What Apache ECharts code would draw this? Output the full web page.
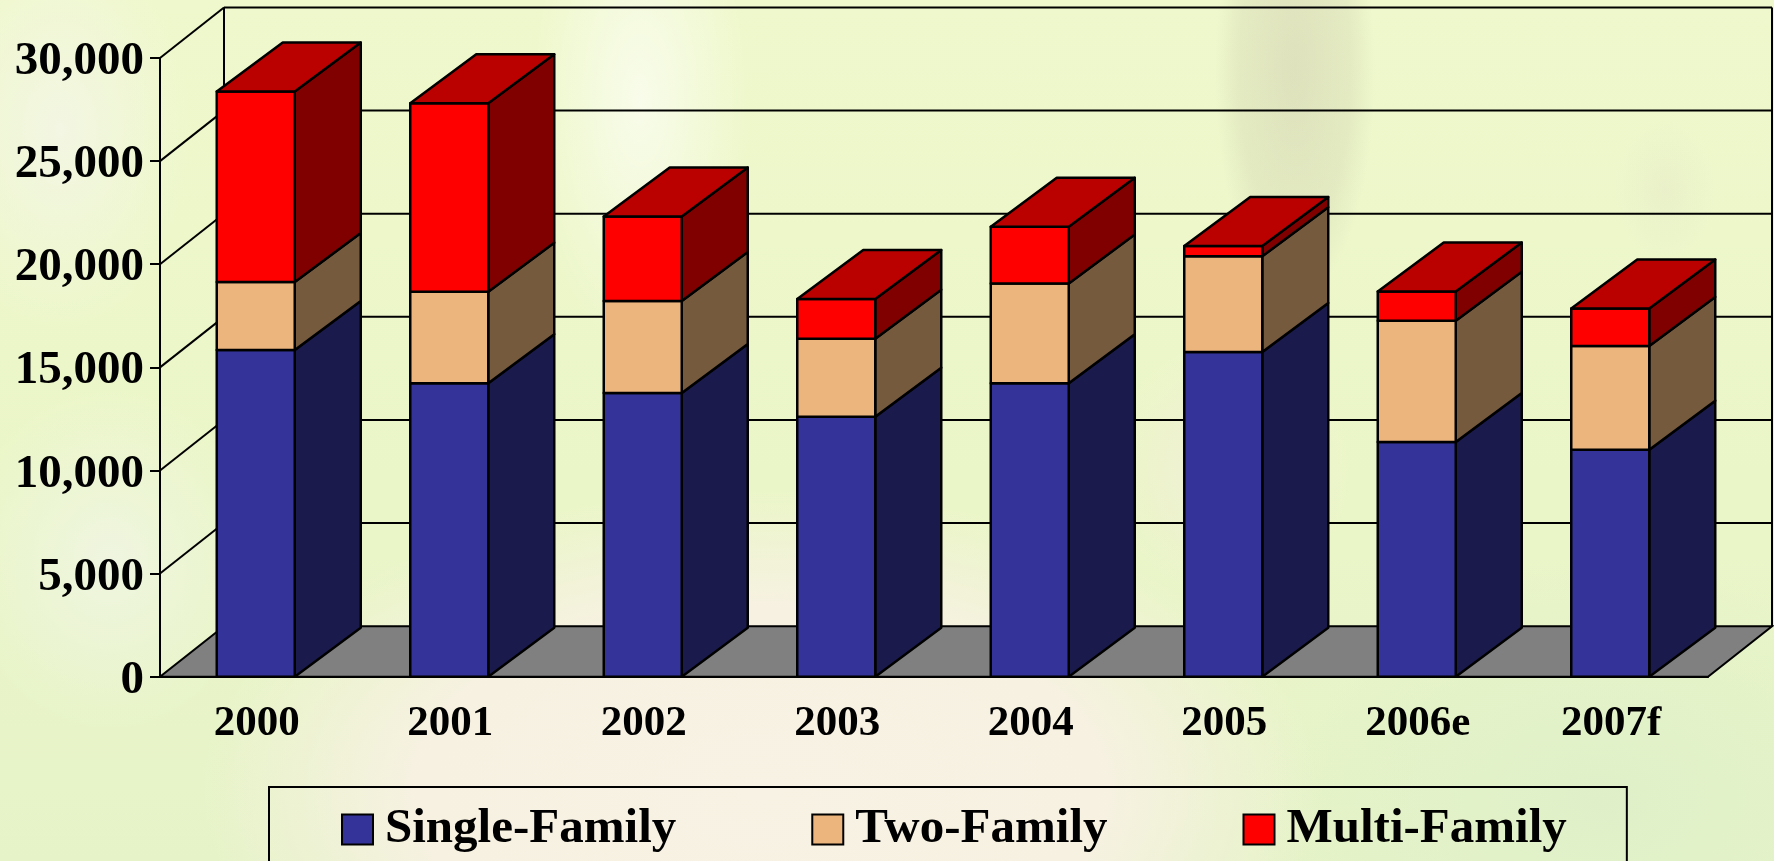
<!DOCTYPE html>
<html>
<head>
<meta charset="utf-8">
<script src="https://cdn.jsdelivr.net/npm/echarts@6/dist/echarts.min.js"></script>
<style>
html,body{margin:0;padding:0;width:1774px;height:861px;overflow:hidden}
body{background:
 radial-gradient(ellipse 50px 70px at 1665px 190px,rgba(225,225,200,.3),rgba(225,225,200,0)),
 radial-gradient(ellipse 80px 230px at 1295px 70px,rgba(190,185,160,.34),rgba(190,185,160,.22) 70%,rgba(190,185,160,0)),
 radial-gradient(ellipse 110px 250px at 640px 100px,rgba(255,255,255,.6),rgba(255,255,255,0)),
 radial-gradient(ellipse 120px 130px at 1230px 470px,rgba(244,236,220,.7),rgba(244,236,220,0)),
 radial-gradient(ellipse 560px 300px at 760px 790px,#f8f2e4,#f7f1e2 60%,rgba(247,241,226,0)),
 radial-gradient(ellipse 130px 200px at 60px 130px,rgba(243,246,228,.95),rgba(243,246,228,0)),
 radial-gradient(ellipse 150px 170px at 110px 560px,rgba(240,245,228,.85),rgba(240,245,228,0)),
 radial-gradient(ellipse 350px 240px at 1600px 800px,#dff0c8,rgba(223,240,200,0)),
 linear-gradient(180deg,#eff8cc 0%,#ebf6c8 55%,#e6f3c8 100%);
}
#chart{width:1774px;height:861px}
</style>
</head>
<body>
<div id="chart"></div>
<script>
const categories = ['2000','2001','2002','2003','2004','2005','2006e','2007f'];
const singleFamily = [15840,14230,13760,12610,14230,15750,11380,11010];
const twoFamily = [3300,4440,4460,3780,4830,4640,5880,5030];
const multiFamily = [9230,9130,4090,1920,2760,490,1420,1810];
const yTicks = [0,5000,10000,15000,20000,25000,30000];

const FONT = '"Liberation Serif","Times New Roman",serif';
const DX = 64, DY = -50.5;          // oblique depth of the walls
const BAR_DX = 66, BAR_DY = -49;    // oblique depth of the bars
const BAR_W = 78, BAR_SHIFT = -1;   // bar box in pixels

function wallItem(params, api) {
  const v = api.value(0);
  const cs = params.coordSys;
  const y = api.coord([0, v])[1];
  const L = cs.x, R = cs.x + cs.width;
  const line = {stroke:'#000', lineWidth:2, fill:null};
  const kids = [];
  if (v === 0) {
    kids.push({type:'polygon', shape:{points:[[L,y],[R,y],[R+DX,y+DY],[L+DX,y+DY]]},
      style:{fill:'#808080', stroke:'#000', lineWidth:2}});
    const topY = api.coord([0, 30000])[1];
    kids.push({type:'line', shape:{x1:L+DX,y1:y+DY,x2:L+DX,y2:topY+DY}, style:line});
    kids.push({type:'line', shape:{x1:R+DX,y1:y+DY,x2:R+DX,y2:topY+DY}, style:line});
  } else {
    kids.push({type:'line', shape:{x1:L,y1:y,x2:L+DX,y2:y+DY}, style:line});
    kids.push({type:'line', shape:{x1:L+DX,y1:y+DY,x2:R+DX,y2:y+DY}, style:line});
  }
  return {type:'group', children:kids};
}

function barRenderer(front, side, top) {
  return function (params, api) {
    const i = api.value(0);
    const p0 = api.coord([i, api.value(1)]);
    const p1 = api.coord([i, api.value(2)]);
    const x0 = p0[0] - BAR_W/2 + BAR_SHIFT, x1 = x0 + BAR_W;
    const yb = p0[1], yt = p1[1];
    const st = c => ({fill:c, stroke:'#000', lineWidth:2.5, lineJoin:'round'});
    const kids = [
      {type:'polygon', shape:{points:[[x1,yb],[x1+BAR_DX,yb+BAR_DY],[x1+BAR_DX,yt+BAR_DY],[x1,yt]]}, style:st(side)},
      {type:'rect', shape:{x:x0,y:yt,width:BAR_W,height:yb-yt}, style:st(front)}
    ];
    if (top) kids.push({type:'polygon', shape:{points:[[x0,yt],[x1,yt],[x1+BAR_DX,yt+BAR_DY],[x0+BAR_DX,yt+BAR_DY]]}, style:st(top)});
    return {type:'group', children:kids};
  };
}

let base = categories.map(() => 0);
function rows(vals) {
  const out = vals.map((v,i) => [i, base[i], base[i] + v]);
  base = out.map(r => r[2]);
  return out;
}

const chart = echarts.init(document.getElementById('chart'));
chart.setOption({
  animation:false,
  backgroundColor:'transparent',
  grid:{left:160, right:66, top:58, bottom:184.3, containLabel:false},
  xAxis:{type:'category', data:categories,
    axisLine:{lineStyle:{color:'#000',width:2}},
    axisTick:{length:10,lineStyle:{color:'#000',width:2}},
    axisLabel:{color:'#000',fontFamily:FONT,fontWeight:'bold',fontSize:43,margin:26,interval:0}},
  yAxis:{type:'value',min:0,max:30000,interval:5000,
    axisLine:{show:true,lineStyle:{color:'#000',width:2}},
    axisTick:{show:true,length:10,lineStyle:{color:'#000',width:2}},
    splitLine:{show:false},
    axisLabel:{color:'#000',fontFamily:FONT,fontWeight:'bold',fontSize:47,margin:16,
      verticalAlign:'top',lineHeight:8,
      formatter:v=>v.toLocaleString('en-US')}},
  legend:{show:true,left:269,top:787,orient:'horizontal',
    padding:[18,60,60,72],
    borderColor:'#000',borderWidth:2,
    itemWidth:31,itemHeight:30,itemGap:135,
    icon:'rect',
    selectedMode:false,
    data:['Single-Family','Two-Family','Multi-Family'],
    textStyle:{color:'#000',fontFamily:FONT,fontWeight:'bold',fontSize:49,padding:[5,0,0,7]}},
  series:[
    {name:'walls',type:'custom',coordinateSystem:'cartesian2d',renderItem:wallItem,
      data:yTicks.map(v=>[v]),encode:{y:0},silent:true,z:1},
    {name:'Single-Family',type:'custom',renderItem:barRenderer('#333399','#1a1a4d'),
      data:rows(singleFamily),encode:{x:0,y:[1,2]},itemStyle:{color:'#333399',borderColor:'#000',borderWidth:2},z:2},
    {name:'Two-Family',type:'custom',renderItem:barRenderer('#ebb57d','#755a3e'),
      data:rows(twoFamily),encode:{x:0,y:[1,2]},itemStyle:{color:'#ebb57d',borderColor:'#000',borderWidth:2},z:3},
    {name:'Multi-Family',type:'custom',renderItem:barRenderer('#ff0000','#800000','#bb0000'),
      data:rows(multiFamily),encode:{x:0,y:[1,2]},itemStyle:{color:'#ff0000',borderColor:'#000',borderWidth:2},z:4}
  ]
});
</script>
</body>
</html>
